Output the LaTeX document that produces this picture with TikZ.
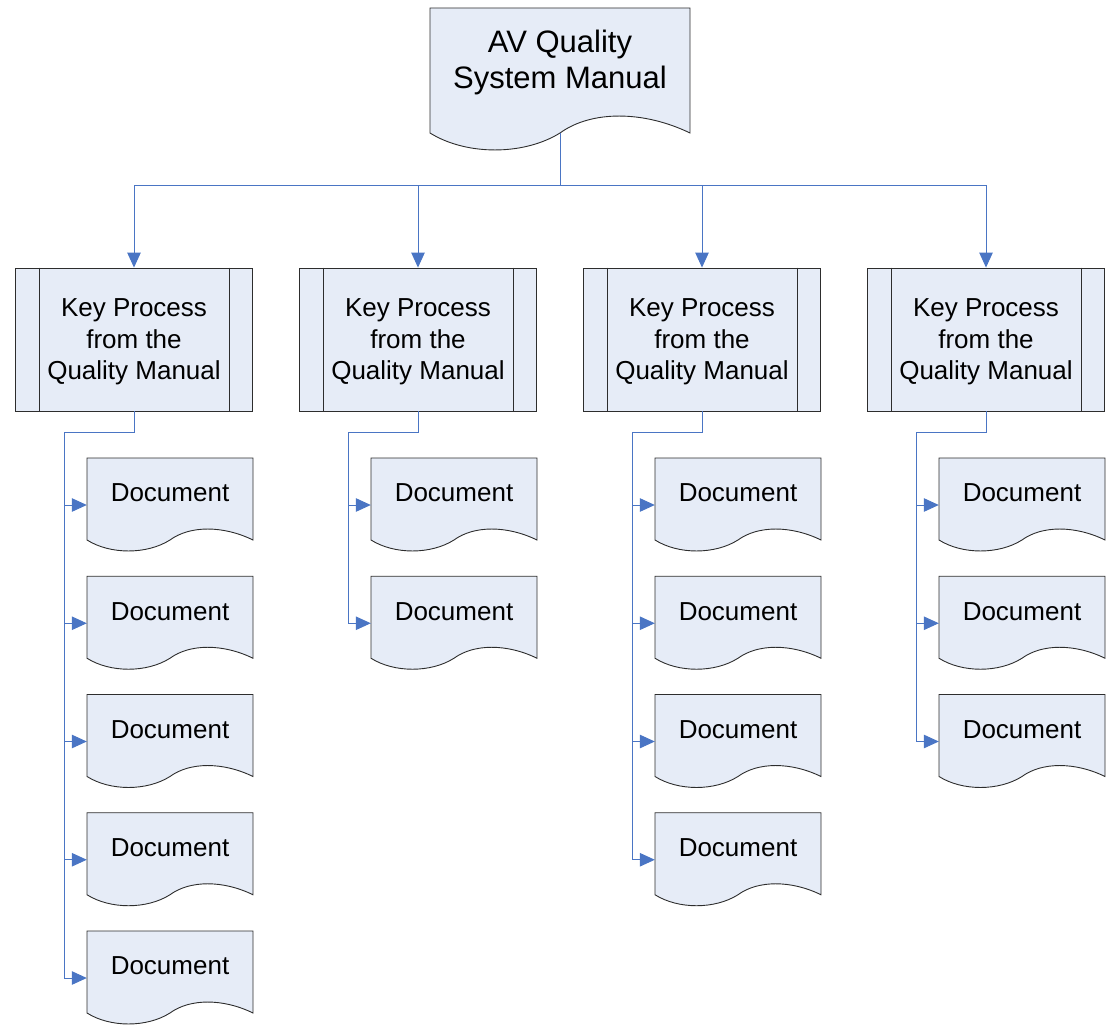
\documentclass[tikz,border=0pt]{standalone}
\usepackage{fontspec}
\setmainfont{Liberation Sans}
\usetikzlibrary{arrows.meta,calc}
\definecolor{shapefill}{RGB}{230,236,247}
\definecolor{linkblue}{RGB}{74,117,196}
\definecolor{edgegray}{RGB}{45,45,45}

% Wavy-bottom document outline: left x, top y, width, side height, wave amplitude
\newcommand\wavydoc[5]{%
  \path[shapeline] (#1,#2) -- (#1+#3,#2) -- (#1+#3,#2+#4)
    .. controls (#1+0.82*#3,#2+#4-1.33*#5) and (#1+0.62*#3,#2+#4-1.33*#5) .. (#1+0.5*#3,#2+#4)
    .. controls (#1+0.36*#3,#2+#4+1.33*#5) and (#1+0.14*#3,#2+#4+1.33*#5) .. (#1,#2+#4) -- cycle;
}

\begin{document}
\begin{tikzpicture}[x=1pt,y=-1pt,
  conn/.style={draw=linkblue, line width=1pt},
  arr/.style={conn, -{Triangle[length=15pt,width=13.5pt]}},
  shapeline/.style={draw=edgegray, fill=shapefill, line width=0.9pt},
  bigtext/.style={font=\fontsize{31}{36}\selectfont, align=center, inner sep=0},
  midtext/.style={font=\fontsize{26}{31.5}\selectfont, align=center, inner sep=0},
  keybox/.style={shapeline, minimum width=237pt, minimum height=143pt, inner sep=0},
  docframe/.style={inner sep=0, minimum width=166pt, minimum height=94pt},
]
\useasboundingbox (0,0) rectangle (1115,1030);

% top manual
\wavydoc{430}{8}{260}{125}{17}
\node[inner sep=0, minimum width=260pt, minimum height=142pt] (manual) at (560,79) {};
\node[bigtext] (manualtext) at (560,62.5) {AV Quality\\System Manual};
\coordinate (mbase) at (560,133);
\coordinate (bus) at (560,185);
\draw[conn] (mbase) -- (bus);

\foreach \i/\n in {1/5,2/2,3/4,4/3}{
  \pgfmathsetmacro\cx{134+284*(\i-1)}
  % key process box with side bars
  \node[keybox] (kp\i) at (\cx,339.5) {};
  \draw[draw=edgegray, line width=0.9pt]
    ($(kp\i.north west)+(24,0)$) -- ($(kp\i.south west)+(24,0)$)
    ($(kp\i.north east)+(-24,0)$) -- ($(kp\i.south east)+(-24,0)$);
  \node[midtext] (kptext\i) at (\cx,342) {Key Process\\from the\\Quality Manual};
  \draw[arr] (bus) -| (kp\i.north);
  % branch spine
  \coordinate (spine\i) at (\cx-69.5,432);
  \draw[conn] (kp\i.south) |- (spine\i);
  \foreach \j in {1,...,\n}{
    \pgfmathsetmacro\top{458+118.25*(\j-1)}
    \wavydoc{\cx-47}{\top}{166}{82}{11}
    \node[docframe] (doc\i-\j) at (\cx+36,\top+47) {};
    \node[midtext] (doctext\i-\j) at (\cx+36,\top+35) {Document};
    \draw[arr] (spine\i) -- (spine\i |- doc\i-\j.west) -- (doc\i-\j.west);
  }
}
\end{tikzpicture}
\end{document}
